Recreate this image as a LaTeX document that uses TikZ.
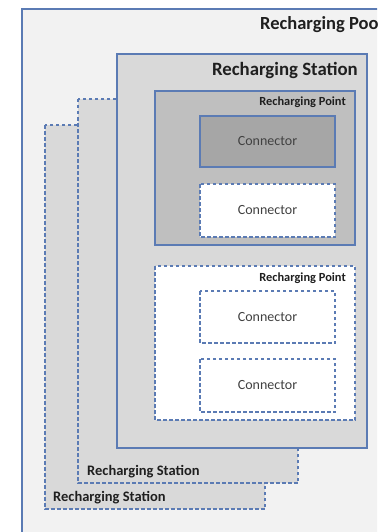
\documentclass[tikz,border=0pt]{standalone}
\usepackage{fontspec}
\setmainfont{Carlito}
\definecolor{poolfill}{HTML}{F2F2F2}
\definecolor{stationfill}{HTML}{D9D9D9}
\definecolor{pointfill}{HTML}{BFBFBF}
\definecolor{connfill}{HTML}{A6A6A6}
\definecolor{edgeblue}{HTML}{5B7BB4}
\definecolor{labelgray}{HTML}{1F1F1F}
\tikzset{
  box/.style={draw=edgeblue, line width=1.15pt},
  dashbox/.style={box, dash pattern=on 3.5pt off 2.5pt},
  title/.style={font=\bfseries, text=labelgray, inner sep=0pt},
  conn/.style={font=\fontsize{14}{16}\selectfont, text=labelgray!85}
}
\begin{document}
\begin{tikzpicture}[x=1pt,y=-1pt]
  \useasboundingbox (0,0) rectangle (377,532);
  \clip (0,0) rectangle (377,532);

  % recharging pool, running off the page
  \draw[box, fill=poolfill] (22,9) rectangle (400,560);
  \node[title, anchor=base west, font=\bfseries\fontsize{18.5}{21}\selectfont] (pool) at (260,30) {Recharging Pool};

  % stations stacked behind
  \draw[dashbox, fill=stationfill] (45,125) rectangle (265,509);
  \node[title, anchor=base west, font=\bfseries\fontsize{14.5}{16}\selectfont] (st3) at (53,501) {Recharging Station};
  \draw[dashbox, fill=stationfill] (78,99) rectangle (298,483);
  \node[title, anchor=base west, font=\bfseries\fontsize{14.5}{16}\selectfont] (st2) at (87,475) {Recharging Station};

  % front station
  \draw[box, fill=stationfill] (117,54) rectangle (367,448);
  \node[title, anchor=base east, font=\bfseries\fontsize{18.8}{20}\selectfont] (st1) at (358,76) {Recharging Station};

  % first recharging point
  \draw[box, fill=pointfill] (155,91) rectangle (355,245);
  \node[title, anchor=base east, font=\bfseries\fontsize{12.4}{14}\selectfont] (pt1) at (346,106) {Recharging Point};
  \draw[box, fill=connfill] (200,116) rectangle (335,167);
  \node[conn] (c1) at (267.5,141.5) {Connector};
  \draw[dashbox, fill=white] (200,184) rectangle (335,237);
  \node[conn] (c2) at (267.5,210.5) {Connector};

  % second recharging point
  \draw[dashbox, fill=white] (155,266) rectangle (355,420);
  \node[title, anchor=base east, font=\bfseries\fontsize{12.4}{14}\selectfont] (pt2) at (346,281) {Recharging Point};
  \draw[dashbox, fill=white] (200,291) rectangle (335,343);
  \node[conn] (c3) at (267.5,317) {Connector};
  \draw[dashbox, fill=white] (200,359) rectangle (335,412);
  \node[conn] (c4) at (267.5,385.5) {Connector};
\end{tikzpicture}
\end{document}
